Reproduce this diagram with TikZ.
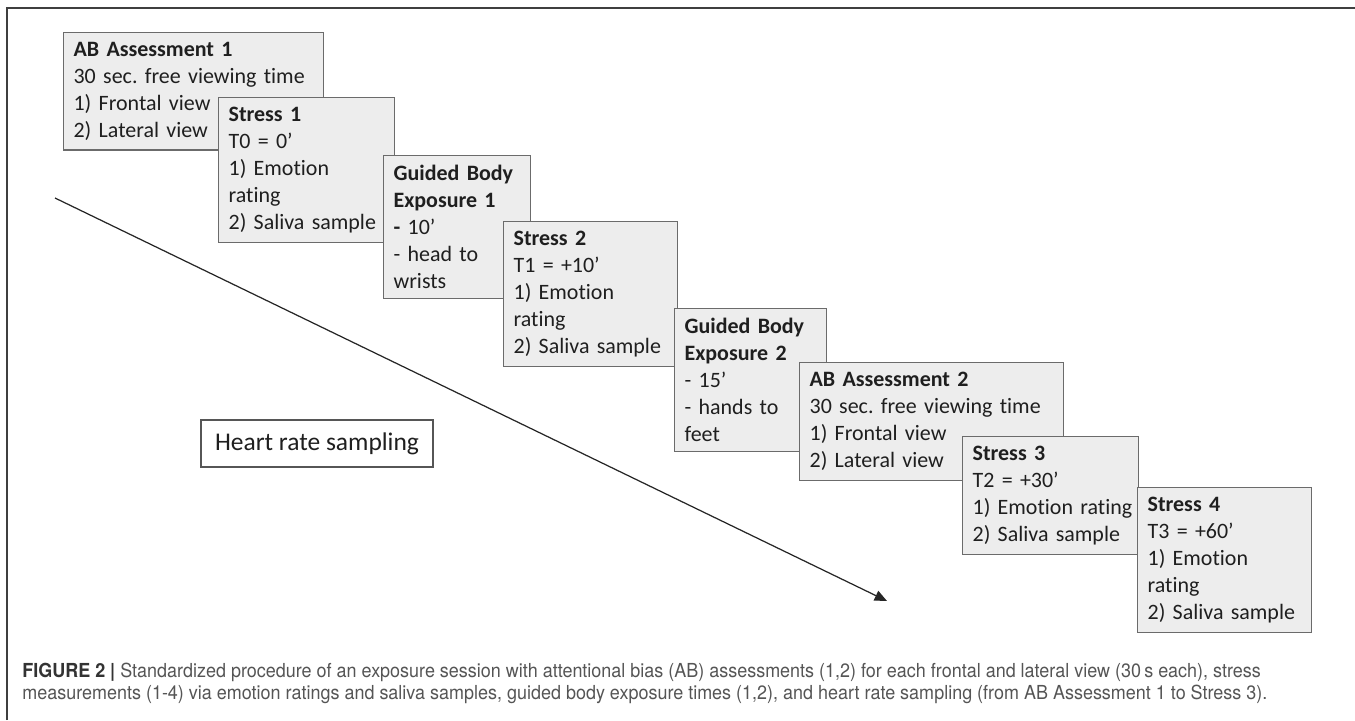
\documentclass[tikz,border=0pt]{standalone}
\usepackage{fontspec}
\setmainfont{Carlito}[Ligatures=NoCommon]
\newfontfamily\capfont[FakeStretch=0.93]{TeX Gyre Heros}
\usetikzlibrary{arrows.meta, positioning}
\definecolor{boxfill}{HTML}{EDEDED}
\definecolor{boxline}{HTML}{6B6B6B}
\definecolor{framecol}{HTML}{3F3F3F}
\definecolor{captext}{HTML}{555555}
\definecolor{capbold}{HTML}{333333}

\begin{document}
\frenchspacing
\begin{tikzpicture}[
    x=0.02cm, y=-0.02cm,
    every node/.style={font=\fontsize{12.5}{15.4}\selectfont, text=black!88},
    stage/.style={rectangle, draw=boxline, fill=boxfill, line width=0.7pt,
                  anchor=north west, inner xsep=0.2cm, inner ysep=0.19cm,
                  align=left, text width=#1,
                  execute at begin node={\hyphenpenalty=10000\exhyphenpenalty=10000}},
    hrbox/.style={rectangle, draw=boxline!80!black, fill=white, line width=0.7pt,
                  minimum width=4.64cm, minimum height=0.94cm, inner xsep=0.22cm,
                  font=\fontsize{14.5}{17}\selectfont},
    captxt/.style={anchor=base west, inner sep=0pt, text=captext,
                font=\capfont\fontsize{11}{13}\selectfont},
    arr/.style={-{Triangle[length=7pt, width=6pt]}, line width=0.7pt, color=black!85},
]
\useasboundingbox (0,0) rectangle (1355,720);

% frame
\draw[framecol, line width=1.1pt] (7,720) -- (7,8) -- (1355,8);

% heart rate sampling
\coordinate (hrs) at (55,198);
\coordinate (hre) at (887,601);
\draw[arr] (hrs) -- (hre);
\node[hrbox] (hr) at (317,443.5) {Heart rate sampling};

% ================================================================ stages
\node[stage=4.8cm] (ab1) at (63,32)
    {\textbf{AB Assessment 1}\\ 30 sec. free viewing time\\ 1) Frontal view\\ 2) Lateral view};
\node[stage=3.12cm] (st1) at (218,97)
    {\textbf{Stress 1}\\ T0 = 0’\\ 1) Emotion\\ rating\\ 2) Saliva sample};
\node[stage=2.54cm] (gb1) at (383,155)
    {\textbf{Guided Body}\\ \textbf{Exposure 1}\\ \textbf{-} 10’\\ - head to\\ wrists};
\node[stage=3.08cm] (st2) at (503,221)
    {\textbf{Stress 2}\\ T1 = +10’\\ 1) Emotion\\ rating\\ 2) Saliva sample};
\node[stage=2.64cm] (gb2) at (674,308)
    {\textbf{Guided Body}\\ \textbf{Exposure 2}\\ - 15’\\ - hands to\\ feet};
\node[stage=4.88cm] (ab2) at (799,362)
    {\textbf{AB Assessment 2}\\ 30 sec. free viewing time\\ 1) Frontal view\\ 2) Lateral view};
\node[stage=3.12cm] (st3) at (962,436)
    {\textbf{Stress 3}\\ T2 = +30’\\ 1)~Emotion~rating\\ 2)~Saliva~sample};
\node[stage=3.08cm] (st4) at (1137,487)
    {\textbf{Stress 4}\\ T3 = +60’\\ 1) Emotion\\ rating\\ 2) Saliva sample};

% ================================================================ caption
\node[captxt] (cap1) at (22,677)
    {{\bfseries\color{capbold}FIGURE 2 |} Standardized procedure of an exposure session with attentional bias (AB) assessments (1,2) for each frontal and lateral view (30\,s each), stress};
\node[captxt] (cap2) at (22,699)
    {measurements (1-4) via emotion ratings and saliva samples, guided body exposure times (1,2), and heart rate sampling (from AB Assessment 1 to Stress 3).};

\end{tikzpicture}
\end{document}
